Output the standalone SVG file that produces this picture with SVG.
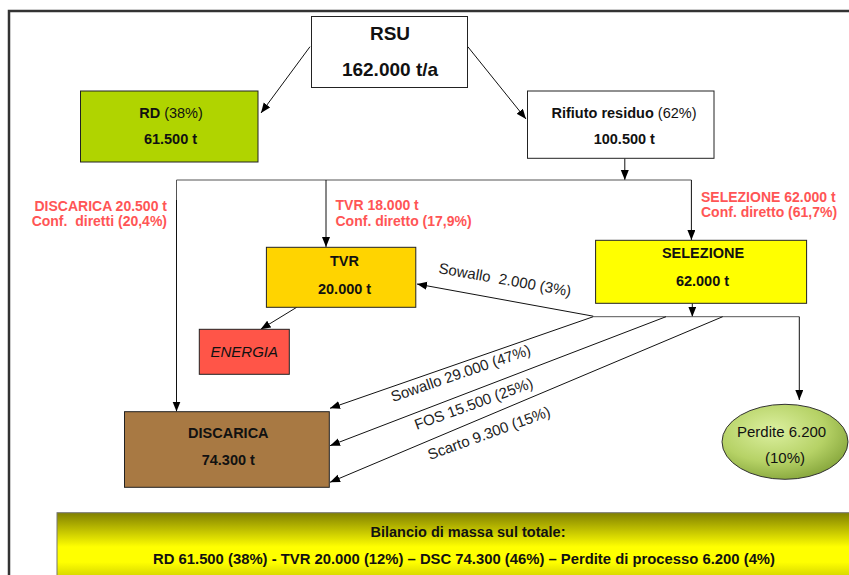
<svg xmlns="http://www.w3.org/2000/svg" width="849" height="575" viewBox="0 0 849 575">
<style>
text{font-family:"Liberation Sans",Arial,sans-serif;fill:#111}
.b{font-weight:bold}
.box{stroke:#222;stroke-width:1}
.red{fill:#ff5555;font-weight:bold;font-size:14px;white-space:pre}
.lbl{font-size:15px;fill:#222;white-space:pre}
.bt{font-size:14.5px}
.ln{stroke:#111;stroke-width:1;fill:none}
.gl{stroke:#555;stroke-width:1;fill:none}
</style>
<defs>
<marker id="ah" markerUnits="userSpaceOnUse" markerWidth="11" markerHeight="10" refX="10" refY="4" orient="auto">
<path d="M0,0 L10,4 L0,8 z" fill="#000"/>
</marker>
<radialGradient id="eg" cx="0.4" cy="0.35" r="0.7">
<stop offset="0" stop-color="#dcf0a0"/>
<stop offset="0.6" stop-color="#b6d266"/>
<stop offset="1" stop-color="#84a43a"/>
</radialGradient>
<linearGradient id="bg" x1="0" y1="0" x2="0" y2="1">
<stop offset="0" stop-color="#808000"/>
<stop offset="0.38" stop-color="#ffff00"/>
<stop offset="0.55" stop-color="#ffff00"/>
<stop offset="1" stop-color="#8c8c00"/>
</linearGradient>
</defs>

<rect x="9" y="11" width="860" height="600" fill="#fff" stroke="#333" stroke-width="2.5"/>

<g id="connectors">
<line class="ln" x1="310" y1="46.7" x2="261" y2="113" marker-end="url(#ah)"/>
<line class="ln" x1="467.8" y1="46.7" x2="526" y2="119" marker-end="url(#ah)"/>
<line class="ln" x1="624.8" y1="158.3" x2="624.8" y2="180" marker-end="url(#ah)"/>
<polyline class="gl" points="176.5,410 176.5,180 691.4,180"/>
<line class="ln" x1="176.5" y1="200" x2="176.5" y2="411.5" marker-end="url(#ah)"/>
<line class="ln" x1="326" y1="180" x2="326" y2="247" marker-end="url(#ah)"/>
<line class="ln" x1="691.4" y1="180" x2="691.4" y2="240" marker-end="url(#ah)"/>
<line class="ln" x1="296.7" y1="307.3" x2="260.7" y2="329.3" marker-end="url(#ah)"/>
<line class="ln" x1="692.3" y1="303.3" x2="692.3" y2="316.7" marker-end="url(#ah)"/>
<line class="gl" x1="593.3" y1="316.7" x2="799.3" y2="316.7"/>
<line class="ln" x1="799.3" y1="316.7" x2="799.3" y2="400" marker-end="url(#ah)"/>
<line class="ln" x1="593.3" y1="316.2" x2="417" y2="284" marker-end="url(#ah)"/>
<line class="ln" x1="593.3" y1="316.7" x2="330" y2="408.3" marker-end="url(#ah)"/>
<line class="ln" x1="666" y1="316.7" x2="330" y2="445.7" marker-end="url(#ah)"/>
<line class="ln" x1="722.7" y1="316.7" x2="330" y2="482.3" marker-end="url(#ah)"/>
<text class="lbl" x="438" y="273" transform="rotate(10 438 273)">Sowallo  2.000 (3%)</text>
<text class="lbl" x="393" y="402" transform="rotate(-19 393 402)">Sowallo 29.000 (47%)</text>
<text class="lbl" x="416.7" y="430" transform="rotate(-20 416.7 430)">FOS 15.500 (25%)</text>
<text class="lbl" x="430" y="460" transform="rotate(-20 430 460)">Scarto 9.300 (15%)</text>
<text class="red" x="167" y="210.5" text-anchor="end">DISCARICA 20.500 t</text>
<text class="red" x="167" y="225.5" text-anchor="end">Conf.  diretti (20,4%)</text>
<text class="red" x="335.5" y="209.5">TVR 18.000 t</text>
<text class="red" x="335.5" y="225.5">Conf. diretto (17,9%)</text>
<text class="red" x="701" y="202">SELEZIONE 62.000 t</text>
<text class="red" x="701" y="217">Conf. diretto (61,7%)</text>
</g>

<g id="rsu">
<rect class="box" x="311.5" y="16.5" width="156" height="71" fill="#fff"/>
<text class="b" x="390" y="40" font-size="19" text-anchor="middle">RSU</text>
<text class="b" x="390" y="76" font-size="19" text-anchor="middle">162.000 t/a</text>
</g>

<g id="rd">
<rect class="box" x="80.5" y="91" width="177.5" height="71" fill="#b0d400"/>
<text class="bt" x="171" y="118.3" text-anchor="middle"><tspan class="b">RD</tspan> (38%)</text>
<text class="bt b" x="170.5" y="144" text-anchor="middle">61.500 t</text>
</g>

<g id="rifiuto">
<rect class="box" x="527.5" y="91" width="186.5" height="67.3" fill="#fff"/>
<text class="bt" x="624" y="118.3" text-anchor="middle"><tspan class="b">Rifiuto residuo</tspan> (62%)</text>
<text class="bt b" x="624.3" y="144" text-anchor="middle">100.500 t</text>
</g>

<g id="tvr">
<rect class="box" x="266.4" y="247.3" width="149.4" height="60" fill="#ffd400"/>
<text class="bt b" x="344.5" y="266" text-anchor="middle">TVR</text>
<text class="bt b" x="344.6" y="294" text-anchor="middle">20.000 t</text>
</g>

<g id="selezione">
<rect class="box" x="595.6" y="240.3" width="211" height="63" fill="#ffff00"/>
<text class="bt b" x="703" y="258.3" text-anchor="middle">SELEZIONE</text>
<text class="bt b" x="702.5" y="286" text-anchor="middle">62.000 t</text>
</g>

<g id="energia">
<rect class="box" x="199.3" y="329.3" width="90" height="45" fill="#ff5548"/>
<text x="244.3" y="357.3" font-size="15" font-style="italic" text-anchor="middle">ENERGIA</text>
</g>

<g id="discarica">
<rect class="box" x="124.5" y="411.7" width="204.8" height="75.6" fill="#a87943"/>
<text class="bt b" x="228.3" y="437.7" text-anchor="middle">DISCARICA</text>
<text class="bt b" x="228.3" y="465" text-anchor="middle">74.300 t</text>
</g>

<g id="perdite">
<ellipse cx="785" cy="441.8" rx="63" ry="37.5" fill="url(#eg)" stroke="#333" stroke-width="1"/>
<text x="781.6" y="437.3" font-size="15" text-anchor="middle">Perdite 6.200</text>
<text x="785" y="462.7" font-size="15" text-anchor="middle">(10%)</text>
</g>

<g id="bilancio">
<rect x="57" y="512.7" width="820" height="90" fill="url(#bg)" stroke="#777" stroke-width="1"/>
<text class="b" x="468" y="536.7" font-size="14.5" text-anchor="middle">Bilancio di massa sul totale:</text>
<text class="b" x="464" y="564.3" font-size="14.5" text-anchor="middle" textLength="622" lengthAdjust="spacingAndGlyphs">RD 61.500 (38%) - TVR 20.000 (12%) – DSC 74.300 (46%) – Perdite di processo 6.200 (4%)</text>
</g>
</svg>
